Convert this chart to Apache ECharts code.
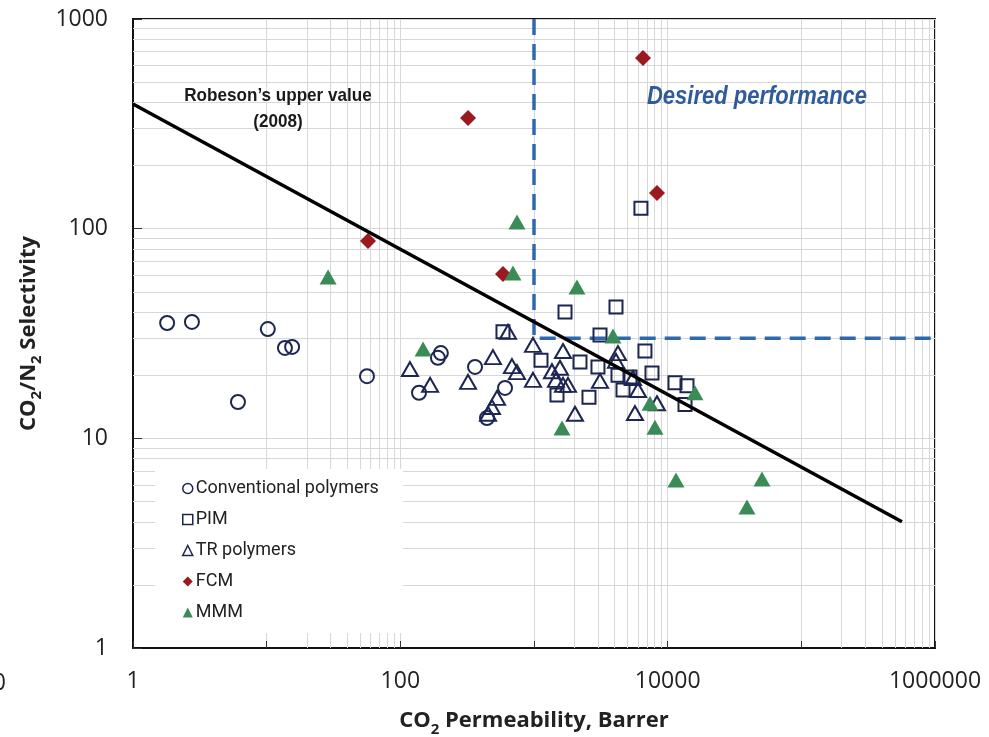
<!DOCTYPE html>
<html><head><meta charset="utf-8">
<script src="https://cdn.jsdelivr.net/npm/echarts@6/dist/echarts.min.js"></script>
<style>html,body{margin:0;padding:0;background:#fff}#c{width:989px;height:737px}</style>
</head><body><div id="c"></div>
<script>
// ---- data (CO2 permeability [Barrer], CO2/N2 selectivity) ----
const convX = [1.8, 2.76, 10.2, 13.7, 15.5, 6.1, 56.3, 138, 191, 201, 362, 607, 445];
const convY = [35.5, 35.9, 33.2, 27.0, 27.3, 14.9, 19.8, 16.5, 24.2, 25.5, 21.9, 17.4, 12.5];

const pimX = [1706, 4106, 586, 3117, 1128, 2208, 3010, 6761, 4250, 5226, 7633, 1486, 2578, 4633, 11346, 13945, 13478, 6310];
const pimY = [40.0, 42.3, 32.2, 31.1, 23.6, 23.1, 21.9, 26.1, 20.0, 19.6, 20.5, 16.1, 15.7, 17.0, 18.4, 17.8, 14.5, 125];

const trX = [118, 167, 321, 493, 639, 684, 746, 983, 983, 529, 485, 453, 1648, 1363, 1564, 1460, 1648, 1796, 3117, 4250, 4106, 5503, 5998, 8318, 2026, 5693];
const trY = [21.4, 18.0, 18.6, 24.4, 32.2, 22.1, 20.7, 27.9, 19.0, 15.6, 14.1, 13.1, 26.1, 20.9, 21.7, 19.0, 18.0, 18.0, 18.8, 25.5, 23.4, 19.4, 17.0, 14.7, 13.1, 13.2];

const fcmX = [6538, 321, 8318, 57.3, 586];
const fcmY = [652, 337, 148, 87.3, 60.8];

const mmmX = [28.8, 746, 696, 2097, 148, 3899, 1620, 7375, 8037, 16010, 11540, 50770, 39220];
const mmmY = [58.8, 107.6, 61.5, 52.7, 26.7, 30.8, 11.2, 14.7, 11.3, 16.5, 6.33, 6.40, 4.70];

// Robeson upper bound (2008) end points
const robesonX = [1, 566000];
const robesonY = [393, 4.0];

// Desired performance region boundary
const desiredX = [1000, 1000, 1000000];
const desiredY = [1000, 30, 30];

// axis tick values
const xLabelTicks = [1, 100, 10000, 1000000];
const yLabelTicks = [1, 10, 100, 1000];
const xMinorTicks = [20, 30, 40, 50, 60, 70, 80, 90, 2000, 3000, 4000, 5000, 6000, 7000, 8000, 9000, 200000, 300000, 400000, 500000, 600000, 700000, 800000, 900000];
const yMinorTicks = [2, 3, 4, 5, 6, 7, 8, 9, 20, 30, 40, 50, 60, 70, 80, 90, 200, 300, 400, 500, 600, 700, 800, 900];

const zip = (a, b) => a.map((v, i) => [v, b[i]]);

const NAVY = '#1d2553';
const GRID = '#d7d7d7';
const RED = '#9a1a1f';
const GREEN = '#3b8b57';
const SANS = '"Liberation Sans", Arial, sans-serif';
const LEGFONT = 'Roboto, "Liberation Sans", sans-serif';
const TICKFONT = '"Open Sans", "Noto Sans", sans-serif';

const chart = echarts.init(document.getElementById('c'), null, {renderer: 'canvas'});

const hollow = {color: 'rgba(255,255,255,0)', borderColor: NAVY, borderWidth: 2, opacity: 1};
const nameRich = {
  b: {fontFamily: TICKFONT, fontSize: 22, fontWeight: 'bold', color: '#222', lineHeight: 28, verticalAlign: 'bottom'},
  s: {fontFamily: TICKFONT, fontSize: 15, fontWeight: 'bold', color: '#222', lineHeight: 28, verticalAlign: 'bottom', padding: [0, 0, -5, 0]}
};

const option = {
  animation: false,
  backgroundColor: '#fff',
  grid: {left: 133, top: 19, right: 54, bottom: 89, outerBoundsMode: 'none', containLabel: false,
         show: true, borderColor: '#111', borderWidth: 2, backgroundColor: 'transparent'},
  xAxis: {
    type: 'log', logBase: 10, min: 1, max: 1000000,
    axisLine: {show: true, lineStyle: {color: '#111', width: 2}},
    axisTick: {show: true, inside: true, length: 7, lineStyle: {color: '#333'}},
    splitLine: {show: true, lineStyle: {color: GRID, width: 1}},
    axisLabel: {
      show: true, showMinLabel: true, showMaxLabel: true, hideOverlap: false,
      fontFamily: TICKFONT, fontSize: 23, color: '#222', margin: 22,
      formatter: v => (xLabelTicks.some(t => Math.abs(t - v) / t < 1e-6) ? String(Math.round(v)) : '')
    },
    name: '{b|CO}{s|2}{b| Permeability, Barrer}',
    nameLocation: 'middle', nameGap: 56,
    nameTextStyle: {rich: nameRich}
  },
  yAxis: {
    type: 'log', logBase: 10, min: 1, max: 1000,
    axisLine: {show: true, lineStyle: {color: '#111', width: 2}},
    axisTick: {show: true, inside: true, length: 9, lineStyle: {color: '#333'}},
    splitLine: {show: true, lineStyle: {color: GRID, width: 1}},
    axisLabel: {
      show: true, showMinLabel: true, showMaxLabel: true,
      fontFamily: TICKFONT, fontSize: 23, color: '#222', margin: 25,
      formatter: v => (yLabelTicks.some(t => Math.abs(t - v) / t < 1e-6) ? String(Math.round(v)) : '')
    },
    name: '{b|CO}{s|2}{b|/N}{s|2}{b| Selectivity}',
    nameLocation: 'middle', nameGap: 87, nameRotate: 90,
    nameTextStyle: {rich: nameRich}
  },
  legend: {
    orient: 'vertical', left: 155, top: 469,
    padding: [9, 24, 10, 27], itemGap: 10,
    backgroundColor: '#fff',
    itemWidth: 10, itemHeight: 10,
    textStyle: {fontFamily: LEGFONT, fontSize: 18, color: '#222', lineHeight: 21, padding: [0, 0, 0, -2]},
    data: [
      {name: 'Conventional polymers', icon: 'circle', itemStyle: {color: '#fff', borderColor: NAVY, borderWidth: 1.5}},
      {name: 'PIM', icon: 'rect', itemStyle: {color: '#fff', borderColor: NAVY, borderWidth: 1.5}},
      {name: 'TR polymers', icon: 'triangle', itemStyle: {color: '#fff', borderColor: NAVY, borderWidth: 1.5}},
      {name: 'FCM', icon: 'diamond'},
      {name: 'MMM', icon: 'triangle'}
    ],
    z: 10
  },
  graphic: [
    {type: 'text', x: 278, y: 96, scaleX: 0.9, z: 20, style: {text: 'Robeson\u2019s upper value', fontFamily: SANS, fontSize: 19, fontWeight: 'bold', fill: '#1a1a1a', align: 'center', verticalAlign: 'middle'}},
    {type: 'text', x: 278, y: 122, scaleX: 0.9, z: 20, style: {text: '(2008)', fontFamily: SANS, fontSize: 19, fontWeight: 'bold', fill: '#1a1a1a', align: 'center', verticalAlign: 'middle'}},
    {type: 'text', x: 757, y: 97, scaleX: 0.88, z: 20, style: {text: 'Desired performance', fontFamily: SANS, fontSize: 25, fontWeight: 'bold', fontStyle: 'italic', fill: '#2f5b9b', align: 'center', verticalAlign: 'middle'}},
    {type: 'text', x: 6, y: 683, z: 20, style: {text: '0', fontFamily: TICKFONT, fontSize: 23, fill: '#222', align: 'right', verticalAlign: 'middle'}}
  ],
  series: [
    {
      name: 'minor-grid', type: 'line', data: [], silent: true, z: 0,
      markLine: {
        silent: true, animation: false, symbol: ['none', 'none'],
        label: {show: false},
        lineStyle: {color: GRID, width: 1, type: 'solid'},
        emphasis: {disabled: true},
        data: xMinorTicks.map(v => ({xAxis: v})).concat(yMinorTicks.map(v => ({yAxis: v})))
      }
    },
    {
      name: 'desired', type: 'line', data: zip(desiredX, desiredY), silent: true, z: 5,
      symbol: 'none', lineStyle: {color: '#2e69ad', width: 3.5, type: [16, 9]}
    },
    {name: 'Conventional polymers', type: 'scatter', z: 6, symbol: 'circle', symbolSize: 14, itemStyle: hollow, data: zip(convX, convY)},
    {name: 'PIM', type: 'scatter', z: 6, symbol: 'rect', symbolSize: 13, itemStyle: hollow, data: zip(pimX, pimY)},
    {name: 'TR polymers', type: 'scatter', z: 6, symbol: 'triangle', symbolSize: [16, 14], itemStyle: hollow, data: zip(trX, trY)},
    {name: 'FCM', type: 'scatter', z: 6, symbol: 'diamond', symbolSize: 16, itemStyle: {color: RED, opacity: 1}, data: zip(fcmX, fcmY)},
    {name: 'MMM', type: 'scatter', z: 6, symbol: 'triangle', symbolSize: [17, 15], itemStyle: {color: GREEN, opacity: 1}, data: zip(mmmX, mmmY)},
    {
      name: 'robeson', type: 'line', data: zip(robesonX, robesonY), silent: true, z: 7,
      symbol: 'none', lineStyle: {color: '#000', width: 3.5}
    }
  ]
};
chart.setOption(option);
</script>
</body></html>
